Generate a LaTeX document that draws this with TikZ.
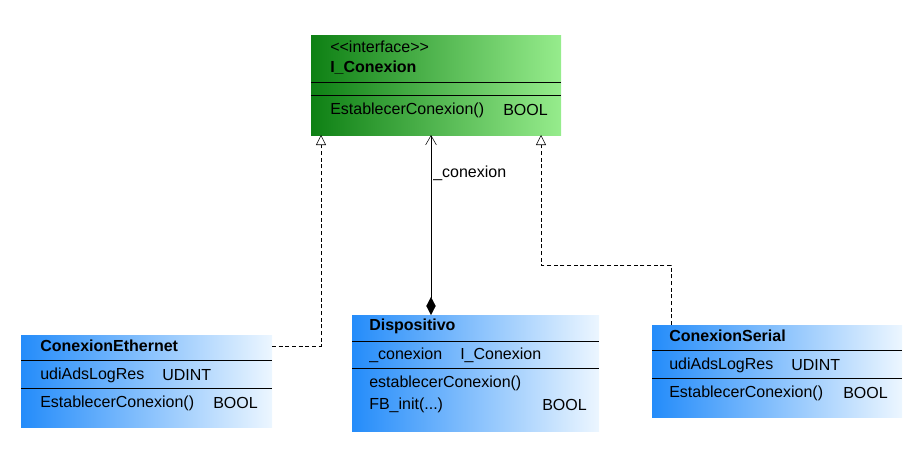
\documentclass[tikz,border=0pt]{standalone}
\usepackage{fontspec}
\setmainfont{Liberation Sans}
\usetikzlibrary{arrows, arrows.meta}
\definecolor{gdark}{RGB}{14,128,20}
\definecolor{glight}{RGB}{150,236,140}
\definecolor{bdark}{RGB}{36,140,250}
\definecolor{blight}{RGB}{236,246,255}
\tikzset{
  ifbox/.style={inner sep=0, outer sep=0, left color=gdark, right color=glight},
  clbox/.style={inner sep=0, outer sep=0, left color=bdark, right color=blight},
  txt/.style={anchor=west, inner sep=0, font=\fontsize{12}{14}\selectfont},
  realize/.style={densely dashed, -{Triangle[open, length=7.5pt, width=7.5pt]}},
}

\begin{document}
\begin{tikzpicture}[x=0.75pt, y=-0.75pt]
\useasboundingbox (0,0) rectangle (918,450);
% class boxes
\node[ifbox, minimum width=187.5pt, minimum height=75pt] (iface) at (436,85) {};
\node[clbox, minimum width=188.25pt, minimum height=69pt] (eth) at (146.5,381) {};
\node[clbox, minimum width=185.25pt, minimum height=87pt] (disp) at (475.5,373) {};
\node[clbox, minimum width=187.5pt, minimum height=69pt] (ser) at (777,371) {};
% dividers
\draw (iface.west |- 0,82) -- (iface.east |- 0,82);
\draw (iface.west |- 0,95) -- (iface.east |- 0,95);
\draw (eth.west |- 0,360) -- (eth.east |- 0,360);
\draw (eth.west |- 0,388) -- (eth.east |- 0,388);
\draw (disp.west |- 0,341) -- (disp.east |- 0,341);
\draw (disp.west |- 0,368) -- (disp.east |- 0,368);
\draw (ser.west |- 0,350) -- (ser.east |- 0,350);
\draw (ser.west |- 0,378) -- (ser.east |- 0,378);
% texts
\node[txt] (ifst) at (330,47) {{<}{<}interface{>}{>}};
\node[txt, font=\fontsize{12}{14}\selectfont\bfseries] (ifname) at (330,68) {I\_Conexion};
\node[txt] (ifm) at (330,110) {EstablecerConexion()};
\node[txt] (ifmt) at (503,110) {BOOL};
\node[txt, font=\fontsize{12}{14}\selectfont\bfseries] (ethname) at (40,346) {ConexionEthernet};
\node[txt] (etha) at (40,375) {udiAdsLogRes};
\node[txt] (ethat) at (162,375) {UDINT};
\node[txt] (ethm) at (40,403) {EstablecerConexion()};
\node[txt] (ethmt) at (213,403) {BOOL};
\node[txt, font=\fontsize{12}{14}\selectfont\bfseries] (dispname) at (369,326) {Dispositivo};
\node[txt] (dispa) at (369,355) {\_conexion};
\node[txt] (dispat) at (460,355) {I\_Conexion};
\node[txt] (dispm) at (369,383) {establecerConexion()};
\node[txt] (dispm2) at (369,405) {FB\_init(...)};
\node[txt] (dispmt) at (542,405) {BOOL};
\node[txt, font=\fontsize{12}{14}\selectfont\bfseries] (sername) at (669,336) {ConexionSerial};
\node[txt] (sera) at (669,365) {udiAdsLogRes};
\node[txt] (serat) at (791,365) {UDINT};
\node[txt] (serm) at (669,393) {EstablecerConexion()};
\node[txt] (sermt) at (843,393) {BOOL};
% connectors
\coordinate (ethup) at (321,135);
\coordinate (serup) at (541,135);
\coordinate (mid) at (431,135);
\coordinate (serbend) at (671,265);
\draw[realize] (ethname -| eth.east) -| (ethup);
\draw[realize] (serbend |- ser.north) -- (serbend) -| (serup);
\draw[{Diamond[length=13.5pt, width=7pt]}-{Straight Barb[length=7pt, width=8pt]}] (mid |- disp.north) -- (mid);
\node[txt] (assoc) at (433,173) {\_conexion};
\end{tikzpicture}
\end{document}
